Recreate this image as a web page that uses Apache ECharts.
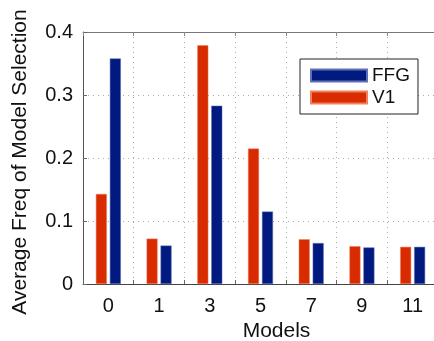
<!DOCTYPE html>
<html>
<head>
<meta charset="utf-8">
<script src="https://cdn.jsdelivr.net/npm/echarts@6/dist/echarts.min.js"></script>
<style>html,body{margin:0;padding:0;background:#fff}#c{width:434px;height:341px}</style>
</head>
<body>
<div id="c"></div>
<script>
var categories = ['0', '1', '3', '5', '7', '9', '11'];
var v1Values = [0.143, 0.072, 0.379, 0.215, 0.071, 0.060, 0.059];
var ffgValues = [0.358, 0.061, 0.283, 0.115, 0.065, 0.058, 0.059];
var yTicks = { min: 0, max: 0.4, interval: 0.1 };

var font = 'Liberation Sans, Arial, Helvetica, sans-serif';
var chart = echarts.init(document.getElementById('c'), null, { renderer: 'canvas' });
chart.setOption({
  animation: false,
  backgroundColor: '#fff',
  textStyle: { fontFamily: font },
  grid: { left: 83, top: 32, bottom: 57, right: -4, outerBoundsMode: 'none', containLabel: false },
  legend: {
    data: ['FFG', 'V1'],
    orient: 'vertical',
    left: 300,
    top: 59,
    width: 117,
    padding: [7, 8, 7, 10],
    itemWidth: 56,
    itemHeight: 12,
    itemGap: 3,
    borderColor: '#222',
    borderWidth: 1,
    backgroundColor: '#fff',
    textStyle: { fontFamily: font, fontSize: 19, color: '#111' },
    icon: 'rect'
  },
  xAxis: [{
    type: 'category',
    data: categories,
    position: 'bottom',
    name: 'Models',
    nameLocation: 'middle',
    nameGap: 37,
    nameTextStyle: { fontFamily: font, fontSize: 21, color: '#111', padding: [0, 0, 0, 32] },
    axisLine: { show: true, lineStyle: { color: '#444', width: 1 } },
    axisTick: { show: true, inside: true, length: 4, lineStyle: { color: '#666' } },
    axisLabel: { fontFamily: font, fontSize: 20, color: '#111', margin: 12 },
    splitLine: { show: true, lineStyle: { type: [1, 4], color: '#aaa' } }
  }, {
    type: 'category',
    data: categories,
    position: 'top',
    axisLine: { show: true, lineStyle: { color: '#777', width: 1 } },
    axisTick: { show: true, inside: true, length: 4, lineStyle: { color: '#888' } },
    axisLabel: { show: false },
    splitLine: { show: false }
  }],
  yAxis: {
    type: 'value',
    min: yTicks.min,
    max: yTicks.max,
    interval: yTicks.interval,
    name: 'Average Freq of Model Selection',
    nameLocation: 'middle',
    nameGap: 52,
    nameTextStyle: { fontFamily: font, fontSize: 21, color: '#111', padding: [0, 8, 0, 0] },
    axisLine: { show: true, lineStyle: { color: '#555', width: 1 } },
    axisTick: { show: true, inside: true, length: 4, lineStyle: { color: '#666' } },
    axisLabel: { fontFamily: font, fontSize: 20, color: '#111', margin: 10 },
    splitLine: { show: true, lineStyle: { type: [1, 4], color: '#aaa' } }
  },
  series: [{
    name: 'V1',
    type: 'bar',
    data: v1Values,
    barWidth: 11,
    barGap: '27%',
    itemStyle: { color: '#D92B00', borderColor: '#F08060', borderWidth: 0.5 }
  }, {
    name: 'FFG',
    type: 'bar',
    data: ffgValues,
    barWidth: 11,
    itemStyle: { color: '#001A80', borderColor: '#6070B8', borderWidth: 0.5 }
  }]
});
</script>
</body>
</html>
